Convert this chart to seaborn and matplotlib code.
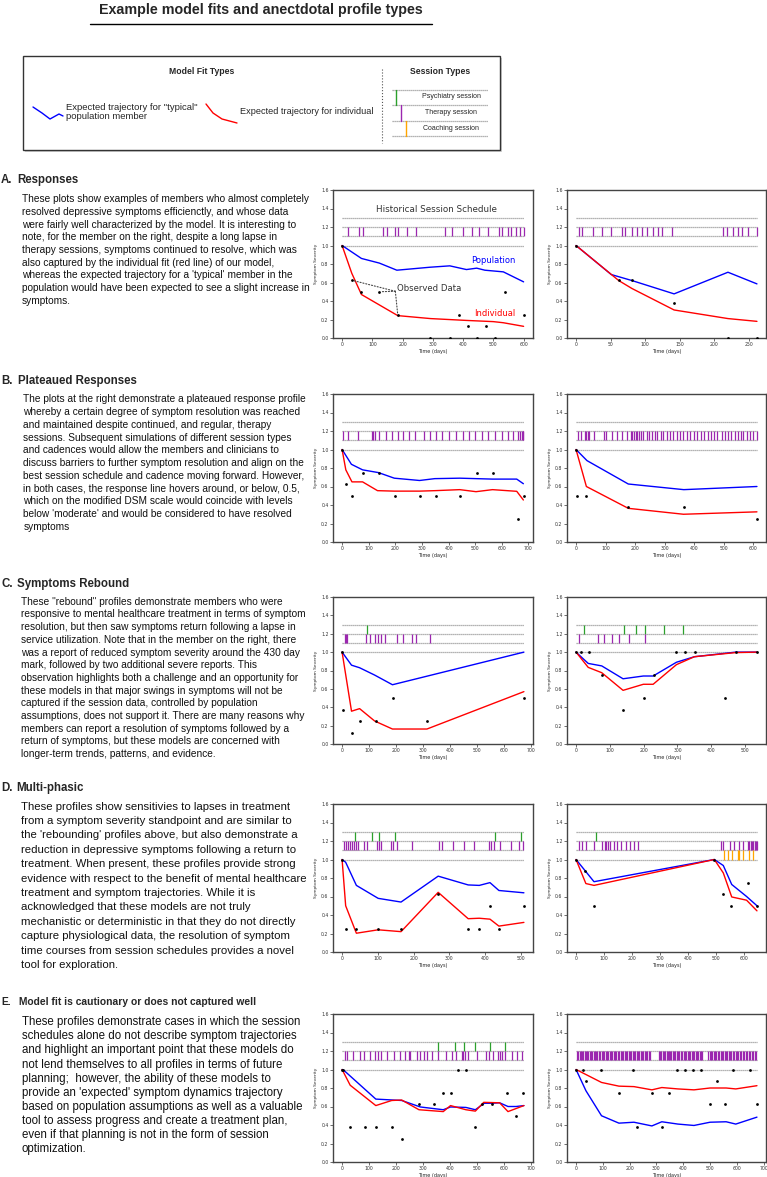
import numpy as np
import pandas as pd
import matplotlib
matplotlib.use("Agg")
import matplotlib.pyplot as plt
from matplotlib.ticker import MultipleLocator
from matplotlib.patches import Rectangle
import seaborn as sns

W, H = 767, 1177

# ── A. Responses ───────────────────────────────────────────────────────────────
A1_pop_t = [0, 64, 123, 181, 290, 356, 411, 445, 472, 533, 600]
A1_pop_y = [1.0, 0.86, 0.81, 0.733, 0.765, 0.78, 0.74, 0.755, 0.733, 0.715, 0.607]
A1_ind_t = [0, 32, 64, 184, 292, 411, 500, 533, 600]
A1_ind_y = [1.0, 0.70, 0.47, 0.242, 0.21, 0.19, 0.177, 0.165, 0.126]
A1_obs_t = [0, 32, 64, 123, 184, 292, 356, 387, 415, 447, 476, 506, 537, 601]
A1_obs_y = [1.0, 0.625, 0.5, 0.5, 0.25, 0.0, 0.0, 0.25, 0.125, 0.0, 0.125, 0.0, 0.5, 0.25]
A1_psych = []
A1_therapy = [20, 57, 70, 134, 147, 176, 185, 215, 243, 339, 364, 400, 430, 454,
              481, 519, 530, 547, 559, 576, 587, 600]
A1_coach = []

A2_pop_t = [0, 51, 81, 142, 220, 262]
A2_pop_y = [1.0, 0.686, 0.621, 0.477, 0.711, 0.585]
A2_ind_t = [0, 62, 81, 142, 220, 262]
A2_ind_y = [1.0, 0.62, 0.535, 0.303, 0.21, 0.18]
A2_obs_t = [0, 62, 81, 142, 220, 262]
A2_obs_y = [1.0, 0.625, 0.625, 0.375, 0.0, 0.0]
A2_psych = []
A2_therapy = [4, 9, 24, 38, 51, 67, 71, 81, 89, 96, 103, 111, 118, 125, 139,
              213, 218, 228, 234, 241, 249, 262]
A2_coach = []

# ── B. Plateaued responses ─────────────────────────────────────────────────────
B1_pop_t = [0, 35, 77, 137, 196, 291, 348, 442, 503, 565, 656, 681]
B1_pop_y = [1.0, 0.84, 0.78, 0.75, 0.69, 0.665, 0.685, 0.69, 0.685, 0.68, 0.68, 0.63]
B1_ind_t = [0, 14, 37, 77, 133, 196, 291, 348, 442, 503, 565, 656, 681]
B1_ind_y = [1.0, 0.78, 0.65, 0.65, 0.555, 0.55, 0.55, 0.555, 0.566, 0.544, 0.566, 0.548, 0.454]
B1_obs_t = [0, 16, 38, 77, 137, 198, 293, 352, 442, 505, 566, 659, 683]
B1_obs_y = [1.0, 0.625, 0.5, 0.75, 0.75, 0.5, 0.5, 0.5, 0.5, 0.75, 0.75, 0.25, 0.5]
B1_psych = []
B1_therapy = [5, 23, 60, 112, 117, 123, 139, 166, 188, 209, 228, 251, 275, 307,
              331, 354, 377, 402, 429, 455, 477, 500, 525, 549, 574, 599, 622,
              642, 659, 669, 674, 678, 681]
B1_coach = []

B2_pop_t = [0, 37, 177, 365, 613]
B2_pop_y = [1.0, 0.88, 0.627, 0.566, 0.60]
B2_ind_t = [0, 35, 177, 364, 613]
B2_ind_y = [1.0, 0.60, 0.364, 0.30, 0.326]
B2_obs_t = [0, 2, 35, 177, 365, 613]
B2_obs_y = [1.0, 0.5, 0.5, 0.375, 0.375, 0.25]
B2_psych = []
B2_therapy = [6, 18, 31, 34, 39, 44, 61, 95, 101, 122, 140, 157, 171, 186, 191,
              197, 202, 207, 214, 220, 228, 239, 248, 258, 267, 276, 288, 296,
              307, 318, 330, 341, 352, 364, 375, 386, 401, 411, 424, 435, 446,
              458, 469, 479, 494, 505, 514, 525, 537, 548, 558, 567, 579, 590,
              601, 613]
B2_coach = []

# ── C. Symptoms rebound ────────────────────────────────────────────────────────
C1_pop_t = [0, 35, 65, 121, 187, 675]
C1_pop_y = [1.0, 0.858, 0.83, 0.75, 0.645, 1.0]
C1_ind_t = [0, 35, 65, 121, 187, 315, 675]
C1_ind_y = [1.0, 0.357, 0.385, 0.25, 0.163, 0.163, 0.57]
C1_obs_t = [0, 5, 35, 65, 125, 190, 315, 675]
C1_obs_y = [1.0, 0.375, 0.125, 0.25, 0.25, 0.5, 0.25, 0.5]
C1_psych = [91]
C1_therapy = [11, 15, 19, 90, 104, 124, 134, 145, 160, 203, 226, 258, 273, 328]
C1_coach = []

C2_pop_t = [0, 36, 76, 139, 199, 228, 297, 350, 472, 535]
C2_pop_y = [1.0, 0.877, 0.85, 0.71, 0.74, 0.74, 0.89, 0.95, 1.0, 1.0]
C2_ind_t = [0, 36, 76, 139, 199, 228, 297, 350, 472, 535]
C2_ind_y = [1.0, 0.834, 0.776, 0.584, 0.65, 0.65, 0.864, 0.95, 0.995, 1.0]
C2_obs_t = [0, 16, 37, 76, 140, 200, 230, 297, 322, 352, 440, 472, 535]
C2_obs_y = [1.0, 1.0, 1.0, 0.75, 0.375, 0.5, 0.75, 1.0, 1.0, 1.0, 0.5, 1.0, 1.0]
C2_psych = [23, 142, 177, 205, 261, 317]
C2_therapy = [9, 64, 84, 105, 126, 156, 204]
C2_coach = []

# ── D. Multi-phasic ────────────────────────────────────────────────────────────
D1_pop_t = [0, 10, 40, 101, 165, 269, 353, 384, 414, 439, 509]
D1_pop_y = [1.0, 0.97, 0.72, 0.58, 0.54, 0.82, 0.725, 0.72, 0.75, 0.665, 0.64]
D1_ind_t = [0, 10, 40, 101, 165, 269, 353, 384, 414, 439, 509]
D1_ind_y = [1.0, 0.5, 0.203, 0.24, 0.22, 0.645, 0.36, 0.365, 0.355, 0.28, 0.32]
D1_obs_t = [0, 10, 40, 101, 165, 269, 353, 384, 414, 439, 509]
D1_obs_y = [1.0, 0.25, 0.25, 0.25, 0.25, 0.625, 0.25, 0.25, 0.5, 0.25, 0.5]
D1_psych = [36, 83, 103, 147, 428, 502]
D1_therapy = [6, 10, 16, 22, 27, 33, 39, 44, 60, 71, 98, 102, 109, 137, 142, 153,
              197, 272, 281, 311, 341, 369, 410, 417, 424, 441, 473, 494, 506]
D1_coach = []

D2_pop_t = [0, 64, 493, 525, 555, 608, 645]
D2_pop_y = [1.0, 0.76, 1.0, 0.935, 0.73, 0.6, 0.5]
D2_ind_t = [0, 35, 64, 493, 525, 555, 608, 645]
D2_ind_y = [1.0, 0.74, 0.72, 1.0, 0.855, 0.595, 0.56, 0.445]
D2_obs_t = [0, 32, 64, 493, 525, 553, 613, 645]
D2_obs_y = [1.0, 0.875, 0.5, 1.0, 0.625, 0.5, 0.75, 0.5]
D2_psych = [70]
D2_therapy = [11, 23, 35, 64, 94, 104, 108, 114, 120, 134, 146, 162, 177, 192,
              206, 221, 516, 525, 549, 564, 582, 596, 612, 618, 623, 627, 632,
              637, 641, 645]
D2_coach = [528, 540, 555, 578, 582, 596, 618, 632]

# ── E. Poorly captured ─────────────────────────────────────────────────────────
E1_pop_t = [0, 5, 125, 221, 290, 375, 402, 459, 494, 527, 554, 584, 615, 645, 674]
E1_pop_y = [1.0, 0.995, 0.68, 0.665, 0.595, 0.565, 0.595, 0.59, 0.565, 0.635,
            0.635, 0.64, 0.6, 0.6, 0.61]
E1_ind_t = [0, 30, 125, 184, 221, 285, 375, 402, 459, 494, 525, 584, 615, 674]
E1_ind_y = [1.0, 0.83, 0.61, 0.665, 0.67, 0.565, 0.545, 0.61, 0.565, 0.55, 0.645,
            0.64, 0.545, 0.61]
E1_obs_t = [0, 5, 31, 85, 126, 185, 221, 285, 342, 374, 402, 431, 461, 494, 520,
            554, 612, 645, 672]
E1_obs_y = [1.0, 1.0, 0.375, 0.375, 0.375, 0.375, 0.25, 0.625, 0.625, 0.75, 0.75,
            1.0, 1.0, 0.375, 0.625, 0.625, 0.75, 0.5, 0.75]
E1_psych = [357, 417, 452, 494, 550, 605]
E1_therapy = [11, 18, 40, 68, 80, 103, 121, 133, 144, 168, 193, 213, 234, 249,
              253, 278, 290, 303, 315, 334, 356, 384, 406, 421, 446, 450, 455,
              465, 500, 534, 543, 561, 578, 586, 594, 605, 628, 649, 668]
E1_coach = []

E2_pop_t = [0, 37, 95, 160, 216, 283, 320, 380, 440, 500, 560, 596, 675]
E2_pop_y = [1.0, 0.77, 0.50, 0.42, 0.43, 0.39, 0.435, 0.41, 0.395, 0.43, 0.435,
            0.41, 0.485]
E2_ind_t = [0, 95, 160, 216, 283, 320, 380, 440, 500, 560, 596, 675]
E2_ind_y = [1.0, 0.86, 0.82, 0.815, 0.78, 0.805, 0.79, 0.78, 0.80, 0.80, 0.79, 0.825]
E2_obs_t = [0, 26, 37, 94, 160, 213, 226, 283, 320, 348, 375, 406, 438, 466, 499,
            527, 557, 587, 650, 675]
E2_obs_y = [1.0, 1.0, 0.875, 1.0, 0.75, 1.0, 0.375, 0.75, 0.375, 0.75, 1.0, 1.0,
            1.0, 1.0, 0.625, 0.875, 0.625, 1.0, 1.0, 0.625]
E2_psych = []
E2_therapy = [3, 8, 14, 19, 22, 27, 33, 38, 41, 46, 52, 57, 60, 66, 71, 75, 80, 86,
              90, 95, 101, 104, 110, 115, 121, 126, 130, 136, 141, 146, 150, 156,
              160, 166, 171, 175, 181, 186, 190, 196, 201, 206, 211, 215, 221, 226,
              231, 236, 241, 246, 251, 256, 260, 266, 271, 276, 309, 314, 318, 323,
              328, 333, 338, 342, 347, 352, 356, 361, 366, 371, 376, 380, 386, 391,
              396, 401, 406, 411, 416, 421, 426, 431, 436, 441, 446, 451, 456, 461,
              466, 471, 494, 499, 504, 509, 514, 519, 524, 529, 534, 539, 544, 549,
              554, 559, 564, 569, 574, 580, 585, 590, 596, 601, 606, 612, 617, 622,
              628, 633, 638, 644, 650, 655, 661, 666, 672]
E2_coach = []

# ── Text ──────────────────────────────────────────────────────────────────────
TITLE = "Example model fits and anectdotal profile types"
SECTIONS = [
    ("A.", "Responses", [
        "These plots show examples of members who almost completely",
        "resolved depressive symptoms efficienctly, and whose data",
        "were fairly well characterized by the model. It is interesting to",
        "note, for the member on the right, despite a long lapse in",
        "therapy sessions, symptoms continued to resolve, which was",
        "also captured by the individual fit (red line) of our model,",
        "whereas the expected trajectory for a 'typical' member in the",
        "population would have been expected to see a slight increase in",
        "symptoms."]),
    ("B.", "Plateaued Responses", [
        "The plots at the right demonstrate a plateaued response profile",
        "whereby a certain degree of symptom resolution was reached",
        "and maintained despite continued, and regular, therapy",
        "sessions. Subsequent simulations of different session types",
        "and cadences would allow the members and clinicians to",
        "discuss barriers to further symptom resolution and align on the",
        "best session schedule and cadence moving forward. However,",
        "in both cases, the response line hovers around, or below, 0.5,",
        "which on the modified DSM scale would coincide with levels",
        "below 'moderate' and would be considered to have resolved",
        "symptoms"]),
    ("C.", "Symptoms Rebound", [
        "These \"rebound\" profiles demonstrate members who were",
        "responsive to mental healthcare treatment in terms of symptom",
        "resolution, but then saw symptoms return following a lapse in",
        "service utilization. Note that in the member on the right, there",
        "was a report of reduced symptom severity around the 430 day",
        "mark, followed by two additional severe reports. This",
        "observation highlights both a challenge and an opportunity for",
        "these models in that major swings in symptoms will not be",
        "captured if the session data, controlled by population",
        "assumptions, does not support it. There are many reasons why",
        "members can report a resolution of symptoms followed by a",
        "return of symptoms, but these models are concerned with",
        "longer-term trends, patterns, and evidence."]),
    ("D.", "Multi-phasic", [
        "These profiles show sensitivies to lapses in treatment",
        "from a symptom severity standpoint and are similar to",
        "the 'rebounding' profiles above, but also demonstrate a",
        "reduction in depressive symptoms following a return to",
        "treatment. When present, these profiles provide strong",
        "evidence with respect to the benefit of mental healthcare",
        "treatment and symptom trajectories. While it is",
        "acknowledged that these models are not truly",
        "mechanistic or deterministic in that they do not directly",
        "capture physiological data, the resolution of symptom",
        "time courses from session schedules provides a novel",
        "tool for exploration."]),
    ("E.", "Model fit is cautionary or does not captured well", [
        "These profiles demonstrate cases in which the session",
        "schedules alone do not describe symptom trajectories",
        "and highlight an important point that these models do",
        "not lend themselves to all profiles in terms of future",
        "planning;  however, the ability of these models to",
        "provide an 'expected' symptom dynamics trajectory",
        "based on population assumptions as well as a valuable",
        "tool to assess progress and create a treatment plan,",
        "even if that planning is not in the form of session",
        "optimization."]),
]

# ── Style ─────────────────────────────────────────────────────────────────────
BLUE, RED = "#0000ff", "#ff0000"
GREEN, PURPLE, ORANGE = "#2ca02c", "#9b27af", "#ffa500"
GRID = "#9a9a9a"
SANS = ["Liberation Sans", "DejaVu Sans"]

sns.set_style("ticks")
plt.rcParams["font.family"] = ["DejaVu Sans"]

fig = plt.figure(figsize=(W / 100, H / 100), dpi=100)
bg = fig.add_axes([0, 0, 1, 1], zorder=0)
bg.set_xlim(0, W)
bg.set_ylim(H, 0)
bg.axis("off")


def panel(box, pop_t, pop_y, ind_t, ind_y, obs_t, obs_y, psych, therapy, coach, step):
    l, t, r, b = box
    ax = fig.add_axes([l / W, 1 - b / H, (r - l) / W, (b - t) / H], zorder=2)
    tmax = max(max(pop_t), max(ind_t), max(obs_t))
    for y in (1.0, 1.1, 1.2, 1.3):
        ax.plot([0, tmax], [y, y], color=GRID, ls=(0, (1, 0.6)), lw=0.9, zorder=1)
    if psych:
        ax.vlines(psych, 1.2, 1.3, color=GREEN, lw=0.9, zorder=2)
    if therapy:
        ax.vlines(therapy, 1.1, 1.2, color=PURPLE, lw=0.9, zorder=2)
    if coach:
        ax.vlines(coach, 1.0, 1.1, color=ORANGE, lw=0.9, zorder=2)
    sns.lineplot(x=pop_t, y=pop_y, color=BLUE, lw=1.0, sort=False, estimator=None, ax=ax)
    sns.lineplot(x=ind_t, y=ind_y, color=RED, lw=1.0, sort=False, estimator=None, ax=ax)
    sns.scatterplot(x=obs_t, y=obs_y, color="black", s=4, linewidth=0, ax=ax, zorder=5)
    ax.set_ylim(0, 1.6)
    ax.yaxis.set_major_locator(MultipleLocator(0.2))
    ax.xaxis.set_major_locator(MultipleLocator(step))
    ax.set_xlabel("Time (days)", fontsize=3.6, labelpad=1)
    ax.set_ylabel("Symptom Severity", fontsize=3.2, labelpad=2)
    ax.tick_params(labelsize=3.3, length=2, width=0.5, pad=1.2, colors="#333333")
    for s in ax.spines.values():
        s.set_color("#444444")
        s.set_linewidth(1.0)
    return ax


rows = [(190, 338), (394, 542), (597, 744), (804, 952), (1014, 1162)]
LEFT, RIGHT = (333, 533), (567, 766)

axA1 = panel((LEFT[0], rows[0][0], LEFT[1], rows[0][1]), A1_pop_t, A1_pop_y, A1_ind_t, A1_ind_y,
             A1_obs_t, A1_obs_y, A1_psych, A1_therapy, A1_coach, 100)
panel((RIGHT[0], rows[0][0], RIGHT[1], rows[0][1]), A2_pop_t, A2_pop_y, A2_ind_t, A2_ind_y,
      A2_obs_t, A2_obs_y, A2_psych, A2_therapy, A2_coach, 50)
panel((LEFT[0], rows[1][0], LEFT[1], rows[1][1]), B1_pop_t, B1_pop_y, B1_ind_t, B1_ind_y,
      B1_obs_t, B1_obs_y, B1_psych, B1_therapy, B1_coach, 100)
panel((RIGHT[0], rows[1][0], RIGHT[1], rows[1][1]), B2_pop_t, B2_pop_y, B2_ind_t, B2_ind_y,
      B2_obs_t, B2_obs_y, B2_psych, B2_therapy, B2_coach, 100)
panel((LEFT[0], rows[2][0], LEFT[1], rows[2][1]), C1_pop_t, C1_pop_y, C1_ind_t, C1_ind_y,
      C1_obs_t, C1_obs_y, C1_psych, C1_therapy, C1_coach, 100)
panel((RIGHT[0], rows[2][0], RIGHT[1], rows[2][1]), C2_pop_t, C2_pop_y, C2_ind_t, C2_ind_y,
      C2_obs_t, C2_obs_y, C2_psych, C2_therapy, C2_coach, 100)
panel((LEFT[0], rows[3][0], LEFT[1], rows[3][1]), D1_pop_t, D1_pop_y, D1_ind_t, D1_ind_y,
      D1_obs_t, D1_obs_y, D1_psych, D1_therapy, D1_coach, 100)
panel((RIGHT[0], rows[3][0], RIGHT[1], rows[3][1]), D2_pop_t, D2_pop_y, D2_ind_t, D2_ind_y,
      D2_obs_t, D2_obs_y, D2_psych, D2_therapy, D2_coach, 100)
panel((LEFT[0], rows[4][0], LEFT[1], rows[4][1]), E1_pop_t, E1_pop_y, E1_ind_t, E1_ind_y,
      E1_obs_t, E1_obs_y, E1_psych, E1_therapy, E1_coach, 100)
panel((RIGHT[0], rows[4][0], RIGHT[1], rows[4][1]), E2_pop_t, E2_pop_y, E2_ind_t, E2_ind_y,
      E2_obs_t, E2_obs_y, E2_psych, E2_therapy, E2_coach, 100)

# annotations on the first panel
axA1.text(312, 1.39, "Historical Session Schedule", fontsize=6.3, ha="center", va="center", color="#333333")
axA1.text(428, 0.84, "Population", fontsize=6, color=BLUE, va="center")
axA1.text(437, 0.27, "Individual", fontsize=6, color=RED, va="center")
axA1.text(181, 0.53, "Observed Data", fontsize=6.1, color="#333333", va="center")
for i in (1, 3, 4):
    axA1.annotate("", xy=(A1_obs_t[i], A1_obs_y[i]), xytext=(176, 0.505),
                  arrowprops=dict(arrowstyle="-", ls=":", color="#444444", lw=0.8,
                                  shrinkA=0, shrinkB=1))

# ── Title & legend box (pixel coordinates) ────────────────────────────────────
bg.text(261, 10, TITLE, fontsize=10.3, fontweight="bold", ha="center", va="center", family=SANS)
bg.plot([90, 432], [24, 24], color="black", lw=1.0)

bg.add_patch(Rectangle((25, 58), 477, 94, facecolor="#d0d0d0", edgecolor="none", zorder=1))
bg.add_patch(Rectangle((23, 56), 477, 94, facecolor="white", edgecolor="#333333", lw=1.0, zorder=2))
bg.text(202, 71, "Model Fit Types", fontsize=6.2, fontweight="bold", ha="center", va="center",
        family=SANS, zorder=3)
bg.text(440, 71, "Session Types", fontsize=6.2, fontweight="bold", ha="center", va="center",
        family=SANS, zorder=3)
bg.plot([382, 382], [69, 143], color="#555555", ls=":", lw=0.8, zorder=3)
bg.plot([33, 42, 50, 59, 63], [107, 113, 119, 114, 116], color=BLUE, lw=1.0, zorder=3)
bg.text(66, 112, "Expected trajectory for \"typical\"\npopulation member", fontsize=6.8,
        ha="left", va="center", family=SANS, linespacing=1.1, zorder=3)
bg.plot([206, 213, 222, 237], [104, 113, 119, 123], color=RED, lw=1.0, zorder=3)
bg.text(240, 112, "Expected trajectory for individual", fontsize=6.6, ha="left", va="center",
        family=SANS, zorder=3)
for y in (90, 105, 121, 136):
    bg.plot([392, 488], [y, y], color=GRID, ls=(0, (1, 0.6)), lw=0.9, zorder=3)
bg.plot([396, 396], [90, 105], color=GREEN, lw=1.0, zorder=4)
bg.plot([401, 401], [105, 121], color=PURPLE, lw=1.0, zorder=4)
bg.plot([406, 406], [121, 136], color=ORANGE, lw=1.0, zorder=4)
for y, lab in ((97, "Psychiatry session"), (113, "Therapy session"), (129, "Coaching session")):
    bg.text(451, y, lab, fontsize=5.0, ha="center", va="center", family=SANS, zorder=4)

# ── Section texts ─────────────────────────────────────────────────────────────
layout = [  # heading y, heading size, body y0, line step, body x, body size, title x
    (180, 8.3, 199.0, 12.75, 22, 7.3, 17.5),
    (381, 8.3, 399.3, 12.75, 23.3, 7.3, 18.3),
    (584, 8.3, 601.7, 12.7, 20.7, 7.3, 17.3),
    (788, 8.3, 806.7, 14.4, 21, 8.2, 16.7),
    (1002, 7.4, 1022.3, 14.1, 21.7, 8.3, 19),
]
for (lab, head, body), (hy, hs, by, st, bx, bs, tx) in zip(SECTIONS, layout):
    bg.text(1, hy, lab, fontsize=hs, fontweight="bold", va="center", family=SANS)
    bg.text(tx, hy, head, fontsize=hs, fontweight="bold", va="center", family=SANS)
    for i, line in enumerate(body):
        bg.text(bx, by + i * st, line, fontsize=bs, va="center", family=SANS, color="#111111")

fig.savefig("out.png", dpi=100)
